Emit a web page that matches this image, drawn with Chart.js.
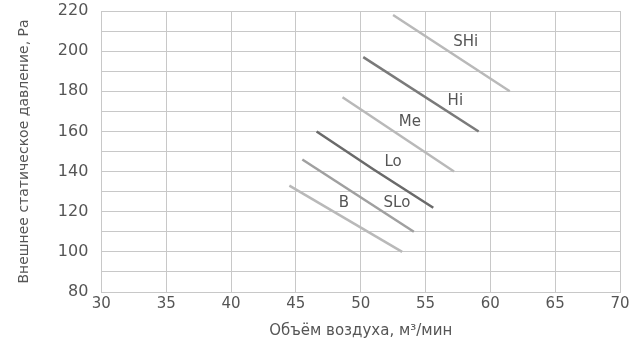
<!DOCTYPE html>
<html>
<head>
<meta charset="utf-8">
<script src="https://cdn.jsdelivr.net/npm/chart.js@4"></script>
<style>
  html, body { margin: 0; padding: 0; background: #fff; }
  #wrap { width: 644px; height: 346px; }
</style>
</head>
<body>
<div id="wrap"><canvas id="chartFan" width="644" height="346"></canvas></div>
<script>
// fan speed curves: air volume (m3/min) vs external static pressure (Pa)
const modos = ['B', 'SLo', 'Lo', 'Me', 'Hi', 'SHi']
const caudalB   = [44.5, 53.2]
const presionB  = [133, 100]
const caudalSLo  = [45.5, 54.1]
const presionSLo = [146, 110]
const caudalLo   = [46.6, 51, 55.6]
const presionLo  = [160, 141, 122]
const caudalMe   = [48.6, 57.2]
const presionMe  = [177, 140]
const caudalHi   = [50.2, 59.1]
const presionHi  = [197, 160]
const caudalSHi  = [52.5, 61.5]
const presionSHi = [218, 180]

// where each mode name sits
const etiquetaX = [48.7, 52.8, 52.5, 53.8, 57.3, 58.1]
const etiquetaY = [124.5, 124.5, 144.5, 164.5, 175, 204.5]

const colores = ['#b9b9b9', '#a0a0a0', '#6a6a6a', '#b9b9b9', '#7a7a7a', '#b9b9b9']

const series = [
    [caudalB, presionB],
    [caudalSLo, presionSLo],
    [caudalLo, presionLo],
    [caudalMe, presionMe],
    [caudalHi, presionHi],
    [caudalSHi, presionSHi]
]

const fuente = "'DejaVu Sans', 'Open Sans', sans-serif"

const etiquetas = {
    id : 'etiquetas',
    afterDatasetsDraw(chart) {
        const { ctx, scales } = chart
        ctx.save()
        ctx.font = `15px ${fuente}`
        ctx.fillStyle = '#555'
        ctx.textAlign = 'center'
        ctx.textBaseline = 'middle'
        modos.forEach((m, i) => {
            ctx.fillText(m, scales.x.getPixelForValue(etiquetaX[i]), scales.y.getPixelForValue(etiquetaY[i]))
        })
        ctx.restore()
    }
}

const context = document.getElementById('chartFan').getContext('2d')

const chartFan = new Chart(context, {
    type : 'line',
    data : {
        datasets : series.map((s, i) => ({
            label : modos[i],
            data : s[0].map((x, j) => ({ x : x, y : s[1][j] })),
            borderColor : colores[i],
            borderWidth : 2.5,
            pointRadius : 0,
            tension : 0,
            fill : false
        }))
    },
    options : {
        responsive : false,
        animation : false,
        layout : { padding : { left : 16, right : 24, top : 11, bottom : 6 } },
        plugins : {
            legend : { display : false },
            tooltip : { enabled : false }
        },
        scales : {
            x : {
                type : 'linear',
                min : 30,
                max : 70,
                ticks : { stepSize : 5, autoSkip : false, color : '#555', font : { family : fuente, size : 15 }, padding : 3 },
                grid : { color : '#c8c8c8', drawTicks : false },
                border : { color : '#c8c8c8' },
                title : {
                    display : true,
                    text : 'Объём воздуха, м³/мин',
                    color : '#555',
                    font : { family : fuente, size : 15 },
                    padding : { top : 6, bottom : 0 }
                }
            },
            y : {
                min : 80,
                max : 220,
                afterFit : scale => { scale.paddingTop = 0 },
                ticks : {
                    stepSize : 10,
                    autoSkip : false,
                    color : '#555',
                    font : { family : fuente, size : 16 },
                    padding : 13,
                    callback : v => v % 20 === 0 ? v : ''
                },
                grid : { color : '#c8c8c8', drawTicks : false },
                border : { color : '#c8c8c8' },
                title : {
                    display : true,
                    text : 'Внешнее статическое давление, Ра',
                    color : '#555',
                    font : { family : fuente, size : 14 },
                    padding : { top : 0, bottom : 12 }
                }
            }
        }
    },
    plugins : [etiquetas]
})
</script>
</body>
</html>
